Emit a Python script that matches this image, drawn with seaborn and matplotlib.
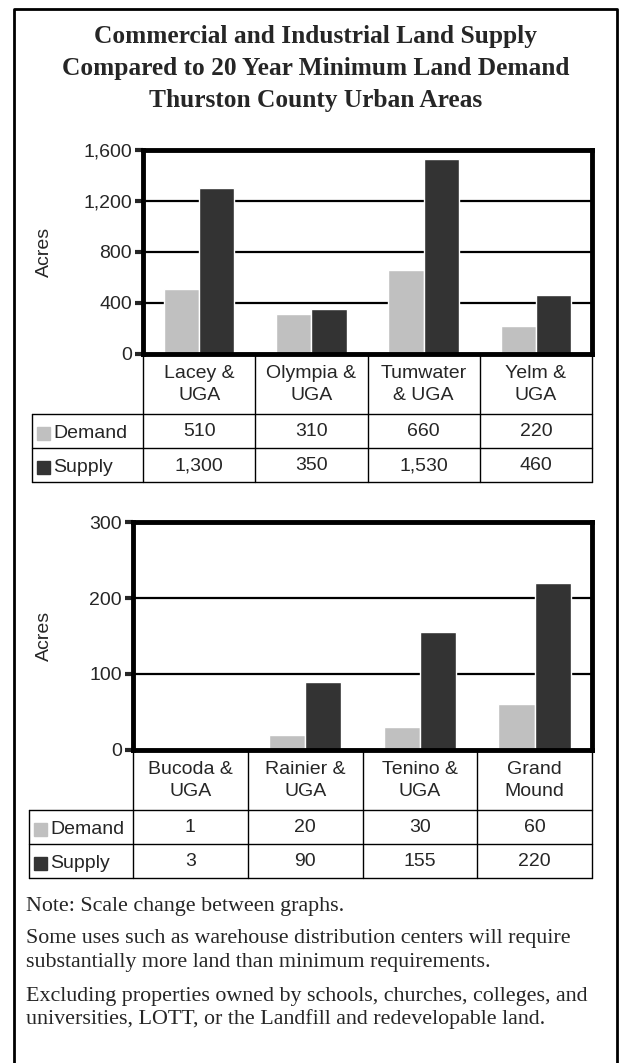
import matplotlib
matplotlib.use('Agg')
import matplotlib.pyplot as plt
import matplotlib.transforms as mtransforms
from matplotlib.lines import Line2D
from matplotlib.patches import Rectangle
import seaborn as sns
import pandas as pd

# data
top_cats = ['Lacey &\nUGA', 'Olympia &\nUGA', 'Tumwater\n& UGA', 'Yelm &\nUGA']
top_demand = [510, 310, 660, 220]
top_supply = [1300, 350, 1530, 460]
top_ticks = [0, 400, 800, 1200, 1600]

bot_cats = ['Bucoda &\nUGA', 'Rainier &\nUGA', 'Tenino &\nUGA', 'Grand\nMound']
bot_demand = [1, 20, 30, 60]
bot_supply = [3, 90, 155, 220]
bot_ticks = [0, 100, 200, 300]

series = ['Demand', 'Supply']
colors = ['#c0c0c0', '#333333']

title_lines = ['Commercial and Industrial Land Supply',
               'Compared to 20 Year Minimum Land Demand',
               'Thurston County Urban Areas']
notes = ['Note: Scale change between graphs.',
         'Some uses such as warehouse distribution centers will require',
         'substantially more land than minimum requirements.',
         'Excluding properties owned by schools, churches, colleges, and',
         'universities, LOTT, or the Landfill and redevelopable land.']

sns.set_style('white')
plt.rcParams['font.family'] = ['Liberation Sans', 'DejaVu Sans']

W, H = 621, 1063
FS = 14
fig = plt.figure(figsize=(W / 100, H / 100), dpi=100)


def fx(x):
    return x / W


def fy(y):
    return 1 - y / H


def panel(box, cats, demand, supply, ticks, label_left, rows_y, ylab_x):
    left, top, right, bottom = box
    ax = fig.add_axes([fx(left), fy(bottom), (right - left) / W, (bottom - top) / H])
    df = pd.DataFrame({'area': cats * 2,
                       'series': [series[0]] * len(cats) + [series[1]] * len(cats),
                       'acres': demand + supply})
    sns.barplot(data=df, x='area', y='acres', hue='series', palette=colors,
                width=0.63, gap=0, saturation=1, errorbar=None, legend=False,
                ax=ax)
    ax.set_xlim(-0.5, len(cats) - 0.5)
    ax.set_ylim(ticks[0], ticks[-1])
    ax.set_yticks(ticks)
    ax.set_yticklabels(['{:,}'.format(t) for t in ticks])
    ax.yaxis.grid(True, color='black', lw=1.6)
    ax.set_axisbelow(True)
    for s in ax.spines.values():
        s.set_visible(True)
        s.set_color('black')
        s.set_linewidth(3.5)
    ax.tick_params(axis='y', length=6, width=3, direction='out', labelsize=FS,
                   pad=2, left=True)
    ax.tick_params(axis='x', length=0, labelsize=FS, pad=8)
    for t in ax.get_xticklabels():
        t.set_linespacing(1.4)
    ax.set_xlabel('')
    ax.set_ylabel('Acres', fontsize=FS)
    ax.yaxis.set_label_coords((ylab_x - left) / (right - left), 0.5)

    # data table under the axis
    blend = mtransforms.blended_transform_factory(ax.transData, fig.transFigure)
    r0, r1, r2 = rows_y
    lw = 1.0
    for y in rows_y:
        fig.add_artist(Line2D([fx(label_left), fx(right)], [fy(y), fy(y)],
                              color='black', lw=lw, transform=fig.transFigure))
    fig.add_artist(Line2D([fx(label_left)] * 2, [fy(r0), fy(r2)],
                          color='black', lw=lw, transform=fig.transFigure))
    for i in range(len(cats) + 1):
        xb = i - 0.5
        fig.add_artist(Line2D([xb, xb], [fy(bottom), fy(r2)], color='black',
                              lw=lw, transform=blend))
    for k, (name, vals) in enumerate(zip(series, [demand, supply])):
        yc = (rows_y[k] + rows_y[k + 1]) / 2 + 2
        fig.add_artist(Rectangle((fx(label_left + 5), fy(yc + 6.5)), 13 / W, 13 / H,
                                 color=colors[k], transform=fig.transFigure))
        fig.text(fx(label_left + 21), fy(yc), name, fontsize=FS,
                 va='center', ha='left')
        for i, v in enumerate(vals):
            ax.text(i, fy(yc - 1), '{:,}'.format(v), transform=blend, fontsize=FS,
                    ha='center', va='center')
    return ax


panel((143, 150, 592, 354), top_cats, top_demand, top_supply, top_ticks,
      32, (414, 448, 482), 53)
panel((133, 522, 592, 750), bot_cats, bot_demand, bot_supply, bot_ticks,
      29, (810, 844, 878), 53)

# outer frame (open at the bottom)
fig.add_artist(Line2D([fx(14), fx(14), fx(617), fx(617)],
                      [fy(H + 5), fy(9), fy(9), fy(H + 5)],
                      color='black', lw=2, transform=fig.transFigure))

serif = ['Liberation Serif', 'DejaVu Serif']
for k, line in enumerate(title_lines):
    fig.text(fx(315.5), fy(36 + 32.5 * k), line, family=serif, weight='bold',
             fontsize=18.3, ha='center', va='center')

for line, y in zip(notes, [906, 939, 962, 996, 1019]):
    fig.text(fx(26), fy(y), line, family=serif, fontsize=15.8, ha='left',
             va='center')

fig.savefig('out.png', dpi=100)
